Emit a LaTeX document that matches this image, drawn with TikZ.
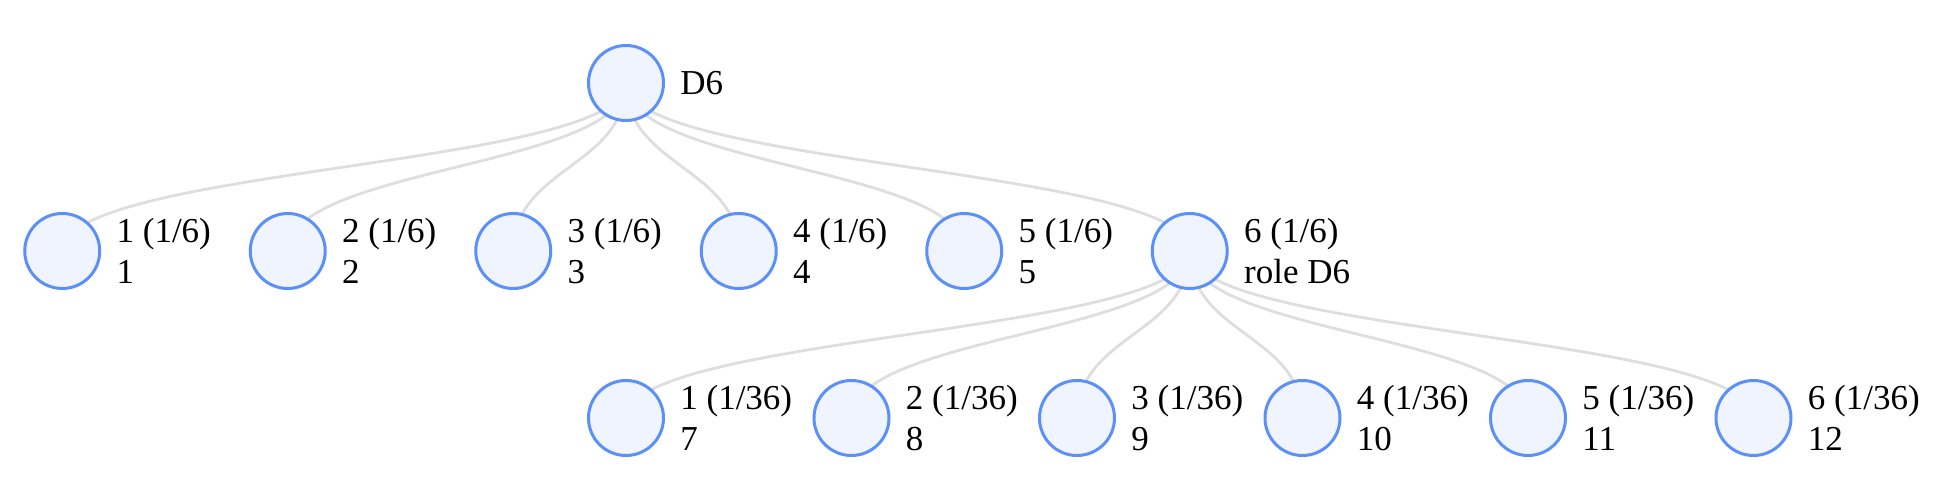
\documentclass[tikz,border=0pt]{standalone}
\usepackage{fontspec}
\setmainfont{Liberation Serif}
\usetikzlibrary{positioning,calc,backgrounds}
\definecolor{RingBlue}{HTML}{5B8FF9}
\definecolor{PaleBlue}{HTML}{EFF4FF}
\definecolor{LinkGray}{HTML}{DEDEDE}
\tikzset{
  die node/.style={circle,draw=RingBlue,line width=1.5pt,fill=PaleBlue,
    minimum size=37.5pt,inner sep=0pt},
  die text/.style={align=left,inner sep=0pt,text=black,
    font=\fontsize{17.5}{20.75}\selectfont},
  die link/.style={draw=LinkGray,line width=1.4pt,
    to path={.. controls ($(\tikztostart)!.5!(\tikztostart |- \tikztotarget)$)
      and ($(\tikztotarget)!.5!(\tikztotarget |- \tikztostart)$) .. (\tikztotarget)}}
}

\begin{document}
\begin{tikzpicture}[node distance=73.75pt]
  \useasboundingbox (-313pt,-206.5pt) rectangle (657pt,41.5pt);
  % root
  \node[die node] (d6) at (0,0) {};
  \node[die text,right=7.5pt of d6] (d6 text) {D6};
  % first roll
  \node[die node] (r1) at (-281.875pt,-84pt) {};
  \node[die node,right=of r1] (r2) {};
  \node[die node,right=of r2] (r3) {};
  \node[die node,right=of r3] (r4) {};
  \node[die node,right=of r4] (r5) {};
  \node[die node,right=of r5] (r6) {};
  \node[die text,right=7.5pt of r1] (r1 text) {1 (1/6)\\1};
  \node[die text,right=7.5pt of r2] (r2 text) {2 (1/6)\\2};
  \node[die text,right=7.5pt of r3] (r3 text) {3 (1/6)\\3};
  \node[die text,right=7.5pt of r4] (r4 text) {4 (1/6)\\4};
  \node[die text,right=7.5pt of r5] (r5 text) {5 (1/6)\\5};
  \node[die text,right=7.5pt of r6] (r6 text) {6 (1/6)\\role D6};
  % second roll
  \node[die node] (s1) at (0,-167.5pt) {};
  \node[die node,right=of s1] (s2) {};
  \node[die node,right=of s2] (s3) {};
  \node[die node,right=of s3] (s4) {};
  \node[die node,right=of s4] (s5) {};
  \node[die node,right=of s5] (s6) {};
  \node[die text,right=7.5pt of s1] (s1 text) {1 (1/36)\\7};
  \node[die text,right=7.5pt of s2] (s2 text) {2 (1/36)\\8};
  \node[die text,right=7.5pt of s3] (s3 text) {3 (1/36)\\9};
  \node[die text,right=7.5pt of s4] (s4 text) {4 (1/36)\\10};
  \node[die text,right=7.5pt of s5] (s5 text) {5 (1/36)\\11};
  \node[die text,right=7.5pt of s6] (s6 text) {6 (1/36)\\12};
  % links behind the circles
  \begin{scope}[on background layer]
    \draw[die link] (d6.center) to (r1.center);
    \draw[die link] (d6.center) to (r2.center);
    \draw[die link] (d6.center) to (r3.center);
    \draw[die link] (d6.center) to (r4.center);
    \draw[die link] (d6.center) to (r5.center);
    \draw[die link] (d6.center) to (r6.center);
    \draw[die link] (r6.center) to (s1.center);
    \draw[die link] (r6.center) to (s2.center);
    \draw[die link] (r6.center) to (s3.center);
    \draw[die link] (r6.center) to (s4.center);
    \draw[die link] (r6.center) to (s5.center);
    \draw[die link] (r6.center) to (s6.center);
  \end{scope}
\end{tikzpicture}
\end{document}
